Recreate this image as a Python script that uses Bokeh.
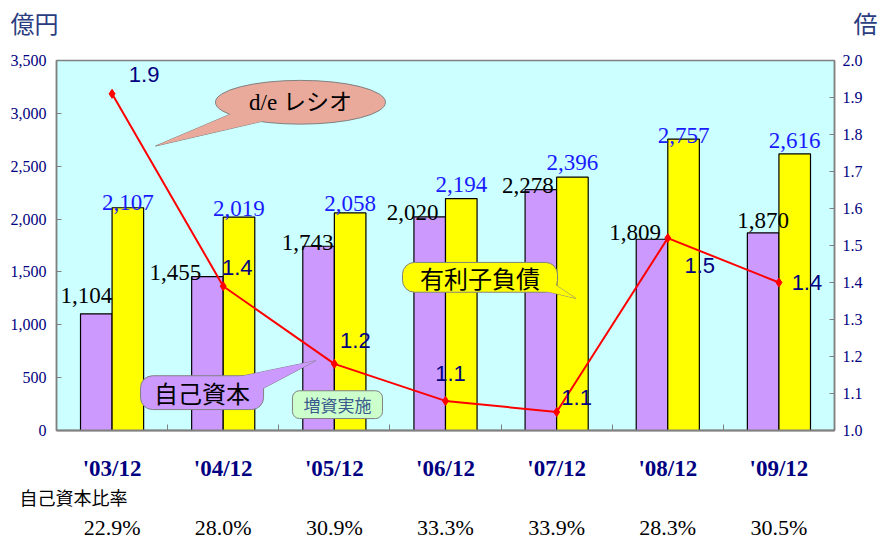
from bokeh.plotting import figure
from bokeh.models import Range1d, LinearAxis, FixedTicker, NumeralTickFormatter, ColumnDataSource
from bokeh.core.properties import value
from bokeh.embed import file_html
from bokeh.resources import INLINE

# ---------------- data ----------------
periods = ["'03/12", "'04/12", "'05/12", "'06/12", "'07/12", "'08/12", "'09/12"]
equity = [1104, 1455, 1743, 2020, 2278, 1809, 1870]          # 自己資本 (億円)
debt = [2107, 2019, 2058, 2194, 2396, 2757, 2616]            # 有利子負債 (億円)
de_ratio = [1.91, 1.39, 1.18, 1.08, 1.05, 1.52, 1.40]        # d/e レシオ (倍)
equity_ratio = ["22.9%", "28.0%", "30.9%", "33.3%", "33.9%", "28.3%", "30.5%"]  # 自己資本比率
left_ticks = [0, 500, 1000, 1500, 2000, 2500, 3000, 3500]
right_ticks = [1.0, 1.1, 1.2, 1.3, 1.4, 1.5, 1.6, 1.7, 1.8, 1.9, 2.0]

# layout nudges (pixels) for value labels
ratio_dx = [32, 14, 21, 5, 20, 32, 28]
ratio_dy = [-19, -19, -23, -27, -15, 27, 0]
eq_dx = [-10, -32, -11, -17, -13, -17, 0]
eq_dy = [-18, -4, -4, -4, -4, -7, -12]
debt_dy = [-5, -9, -9, -14, -15, -4, -13]

NAVY = "#000080"
GRAY = "#808080"
TITLE = "#2a3d7f"
SERIF_S = "Liberation Serif"
CJK_S = "Noto Sans CJK JP"
SERIF = value(SERIF_S)
SANS = value("Liberation Sans")
CJK = value(CJK_S)
IS = "\u3000"  # ideographic space used as padding for edge titles

idx = list(range(len(periods)))
BW = 0.284

p = figure(frame_width=778, frame_height=370, x_range=Range1d(-0.5, 6.5), y_range=Range1d(0, 3500),
           output_backend="svg", toolbar_location=None,
           min_border_left=56, min_border_right=45, min_border_top=60, min_border_bottom=20,
           background_fill_color="#ccffff", border_fill_color="white",
           outline_line_color=GRAY, outline_line_width=1.5)
p.extra_y_ranges = {"ratio": Range1d(1.0, 2.0)}
p.xgrid.visible = False
p.ygrid.visible = False

# ---------------- bars ----------------
src = ColumnDataSource(dict(
    xe=[i - BW / 2 for i in idx], xd=[i + BW / 2 for i in idx], x=idx,
    equity=equity, debt=debt,
    eq_lab=[f"{v:,}" for v in equity], debt_lab=[f"{v:,}" for v in debt],
    ratio=de_ratio, ratio_lab=[f"{v:.1f}" for v in de_ratio],
    rdx=ratio_dx, rdy=ratio_dy, edx=eq_dx, edy=eq_dy, ddy=debt_dy,
))
p.vbar(x="xe", top="equity", width=BW, source=src, fill_color="#cc99ff", line_color="black", line_width=1.2)
p.vbar(x="xd", top="debt", width=BW, source=src, fill_color="#ffff00", line_color="black", line_width=1.2)

p.text(x="xe", y="equity", text="eq_lab", source=src, text_align="center", text_baseline="alphabetic",
       x_offset="edx", y_offset="edy", text_font=SERIF, text_font_size="23px", text_color="black")
p.text(x="xd", y="debt", text="debt_lab", source=src, text_align="center", text_baseline="alphabetic",
       y_offset="ddy", text_font=SERIF, text_font_size="23px", text_color="#1a1aff")

# ---------------- d/e ratio line ----------------
p.line(x="x", y="ratio", source=src, y_range_name="ratio", line_color="#ff0000", line_width=2)
p.scatter(x="x", y="ratio", source=src, y_range_name="ratio", marker="diamond", size=9,
          fill_color="#ff0000", line_color="#ff0000")

# ---------------- callouts ----------------
def callout_tail(xs, ys, color):
    p.patch(xs, ys, fill_color=color, line_color=GRAY, line_width=1)

def tail_cover(xs, ys, color):
    p.patch(xs, ys, fill_color=color, line_color=None)

# d/e レシオ ellipse
SALMON = "#e9aa9b"
t1x, t1y = [1.084, 0.391, 1.354], [3001, 2691, 2926]
callout_tail(t1x, t1y, SALMON)
p.ellipse(x=[1.695], y=[3105], width=1.53, height=414, fill_color=SALMON, line_color=GRAY, line_width=1)
tail_cover(t1x, t1y, SALMON)
p.text(x=[1.695], y=[3105], text=["d/e レシオ"], text_align="center", text_baseline="middle",
       text_font=value("'Liberation Serif', 'Noto Sans CJK JP'"), text_font_size="23px", text_color="black")

# 自己資本 box
PURPLE = "#cc99ff"
t2x, t2y = [1.138, 1.83, 1.354], [508, 659, 395]
callout_tail(t2x, t2y, PURPLE)
p.quad(left=[0.256], right=[1.363], top=[518], bottom=[198], border_radius=12,
       fill_color=PURPLE, line_color=GRAY, line_width=1)
tail_cover(t2x, t2y, PURPLE)
p.text(x=[0.81], y=[357], text=["自己資本"], text_align="center", text_baseline="middle",
       text_font=CJK, text_font_size="24px", text_color="black")

# 増資実施 box
p.quad(left=[1.623], right=[2.433], top=[376], bottom=[113], border_radius=7,
       fill_color="#ccffcc", line_color=GRAY, line_width=1)
p.text(x=[2.028], y=[245], text=["増資実施"], text_align="center", text_baseline="middle",
       text_font=CJK, text_font_size="17px", text_color="#3b5a8c")

# 有利子負債 box
YEL = "#ffff00"
t3x, t3y = [3.927, 4.17, 3.855], [1421, 1251, 1330]
callout_tail(t3x, t3y, YEL)
p.quad(left=[2.613], right=[4.008], top=[1590], bottom=[1308], border_radius=12,
       fill_color=YEL, line_color=GRAY, line_width=1)
tail_cover(t3x, t3y, YEL)
p.text(x=[3.31], y=[1449], text=["有利子負債"], text_align="center", text_baseline="middle",
       text_font=CJK, text_font_size="24px", text_color="black")

# ratio labels (on top)
p.text(x="x", y="ratio", text="ratio_lab", source=src, y_range_name="ratio",
       x_offset="rdx", y_offset="rdy", text_align="center", text_baseline="middle",
       text_font=SANS, text_font_size="22px", text_color=NAVY)

# ---------------- axes ----------------
xa = p.xaxis[0]
xa.ticker = FixedTicker(ticks=idx, minor_ticks=[i - 0.5 for i in range(len(periods) + 1)])
xa.major_label_overrides = {i: periods[i] for i in idx}
xa.major_tick_line_color = None
xa.minor_tick_in = 6
xa.minor_tick_out = 0
xa.minor_tick_line_color = GRAY
xa.axis_line_color = GRAY
xa.axis_line_width = 2
xa.major_label_standoff = 19
xa.major_label_text_font = SERIF_S
xa.major_label_text_font_style = "bold"
xa.major_label_text_font_size = "23px"
xa.major_label_text_color = NAVY

# row title "自己資本比率" between the period labels and the ratios
ER_TITLE_X = -0.347
ma = LinearAxis(ticker=FixedTicker(ticks=[ER_TITLE_X], minor_ticks=[]),
                major_label_overrides={ER_TITLE_X: "自己資本比率"},
                axis_line_color=None, major_tick_line_color=None, minor_tick_line_color=None,
                major_label_standoff=-6, major_label_text_font=CJK_S,
                major_label_text_font_size="18px", major_label_text_color="black")
p.add_layout(ma, "below")

pa = LinearAxis(ticker=FixedTicker(ticks=idx, minor_ticks=[]),
                major_label_overrides={i: equity_ratio[i] for i in idx},
                axis_line_color=None, major_tick_line_color=None, minor_tick_line_color=None,
                major_label_standoff=-4, major_label_text_font=SERIF_S,
                major_label_text_font_size="22px", major_label_text_color="black")
p.add_layout(pa, "below")

ya = p.yaxis[0]
ya.ticker = FixedTicker(ticks=left_ticks, minor_ticks=[])
ya.formatter = NumeralTickFormatter(format="0,0")
ya.major_tick_in = 5
ya.major_tick_out = 0
ya.major_tick_line_color = GRAY
ya.axis_line_color = GRAY
ya.axis_line_width = 1.5
ya.major_label_standoff = 10
ya.major_label_text_font = SERIF_S
ya.major_label_text_font_size = "16px"
ya.major_label_text_color = NAVY

ra = LinearAxis(y_range_name="ratio", ticker=FixedTicker(ticks=right_ticks, minor_ticks=[]),
                formatter=NumeralTickFormatter(format="0.0"),
                major_tick_in=5, major_tick_out=0, major_tick_line_color=GRAY,
                axis_line_color=GRAY, axis_line_width=1.5, major_label_standoff=8,
                major_label_text_font=SERIF_S, major_label_text_font_size="16px",
                major_label_text_color=NAVY)
p.add_layout(ra, "right")

# unit titles "億円" (left) and "倍" (right) above the plot
UNIT_L_X, UNIT_R_X = -0.482, 6.455
ta = LinearAxis(ticker=FixedTicker(ticks=[UNIT_L_X, UNIT_R_X], minor_ticks=[]),
                major_label_overrides={UNIT_L_X: "億円" + IS * 2, UNIT_R_X: IS * 3 + "倍"},
                axis_line_color=None, major_tick_line_color=None, minor_tick_line_color=None,
                major_label_standoff=15, major_label_text_font=CJK_S,
                major_label_text_font_size="24px", major_label_text_color=TITLE)
p.add_layout(ta, "above")

open("out.html", "w").write(file_html(p, INLINE))
